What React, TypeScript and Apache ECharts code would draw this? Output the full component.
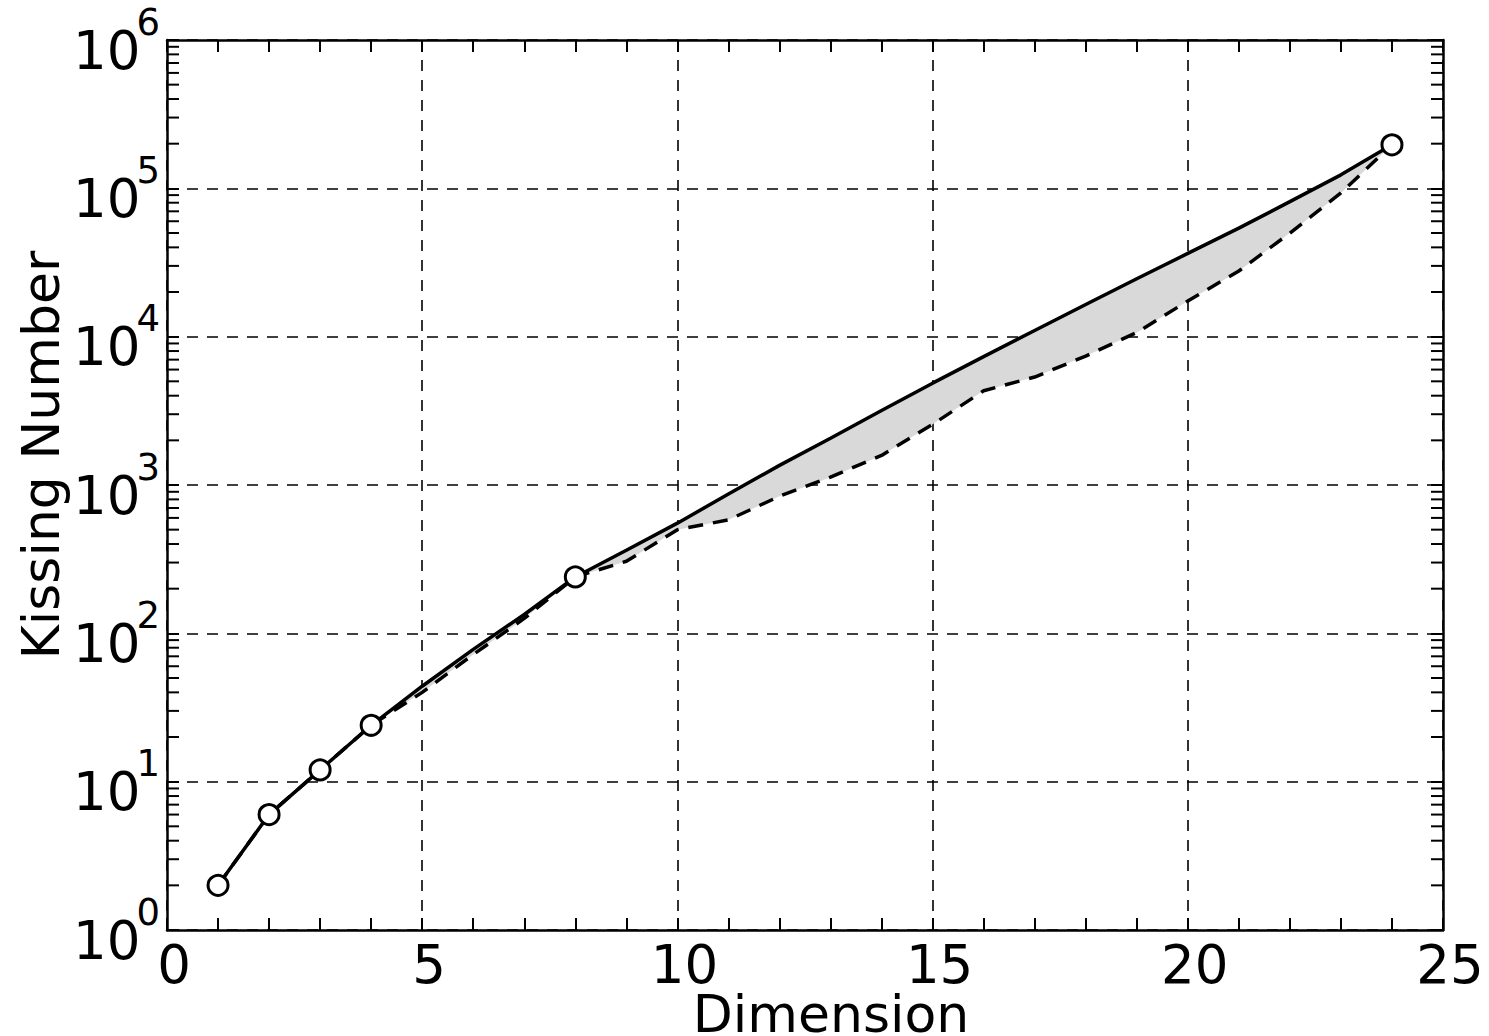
import React, { useEffect, useRef } from "react";
import * as echarts from "echarts";

const dimensions = [1, 2, 3, 4, 5, 6, 7, 8, 9, 10, 11, 12, 13, 14, 15, 16, 17, 18, 19, 20, 21, 22, 23, 24];
const upperBound = [2, 6, 12, 24, 44, 78, 134, 240, 363, 553, 869, 1356, 2066, 3177, 4858, 7332, 11014, 16469, 24575, 36402, 53878, 81376, 123328, 196560];
const lowerBound = [2, 6, 12, 24, 40, 72, 126, 240, 306, 500, 582, 840, 1130, 1582, 2564, 4320, 5346, 7398, 10668, 17400, 27720, 49896, 93150, 196560];
const knownDims = [1, 2, 3, 4, 8, 24];
const knownValues = [2, 6, 12, 24, 240, 196560];

const decades = [1, 10, 100, 1000, 10000, 100000];
const minorMultipliers = [2, 3, 4, 5, 6, 7, 8, 9];
const minorTickValues = decades.flatMap((d) => minorMultipliers.map((m) => m * d));

const FONT = "DejaVu Sans";

export default function App() {
  const ref = useRef<HTMLDivElement>(null);

  useEffect(() => {
    if (!ref.current) return;
    const chart = echarts.init(ref.current, undefined, { renderer: "svg" });

    const tickStyle = { color: "#000", width: 2 };
    const gridLine = { show: true, lineStyle: { color: "#000", width: 1.6, type: [11, 9] as any } };

    const option: any = {
      animation: false,
      backgroundColor: "#fff",
      grid: { left: 167, right: 46, top: 40, bottom: 106, containLabel: false, outerBoundsMode: "none" },
      xAxis: [
        {
          type: "value",
          min: 0,
          max: 25,
          interval: 5,
          position: "bottom",
          name: "Dimension",
          nameLocation: "middle",
          nameGap: 62,
          nameMoveOverlap: false,
          nameTextStyle: { fontFamily: FONT, fontSize: 52, lineHeight: 44, color: "#000", padding: [0, 0, 0, 52] },
          axisLine: { show: true, onZero: false, lineStyle: { color: "#000", width: 2.5 } },
          axisTick: { show: true, inside: true, length: 12, lineStyle: tickStyle },
          minorTick: { show: true, splitNumber: 5, length: 12, lineStyle: tickStyle },
          axisLabel: {
            fontFamily: FONT,
            fontSize: 53,
            lineHeight: 45,
            color: "#000",
            margin: 12,
            padding: [0, 0, 0, 14],
          },
          splitLine: gridLine,
        },
        {
          type: "value",
          min: 0,
          max: 25,
          interval: 5,
          position: "top",
          axisLine: { show: true, onZero: false, lineStyle: { color: "#000", width: 2.5 } },
          axisTick: { show: true, inside: true, length: 12, lineStyle: tickStyle },
          minorTick: { show: true, splitNumber: 5, length: 12, lineStyle: tickStyle },
          axisLabel: { show: false },
          splitLine: { show: false },
        },
      ],
      yAxis: [
        {
          type: "log",
          logBase: 10,
          min: 1,
          max: 1000000,
          splitNumber: 6,
          position: "left",
          name: "Kissing Number",
          nameLocation: "middle",
          nameGap: 100,
          nameRotate: 90,
          nameMoveOverlap: false,
          nameTextStyle: { fontFamily: FONT, fontSize: 52, color: "#000", padding: [0, 0, 0, 60] },
          axisLine: { show: true, onZero: false, lineStyle: { color: "#000", width: 2.5 } },
          axisTick: { show: true, inside: true, length: 12, lineStyle: tickStyle },
          axisLabel: {
            margin: 7,
            formatter: (v: number) => `{h| }{b|10}{s|${Math.round(Math.log10(v))}}`,
            rich: {
              h: { fontSize: 1, lineHeight: 73 },
              b: { fontFamily: FONT, fontSize: 53, color: "#000", lineHeight: 53, verticalAlign: "bottom" },
              s: { fontFamily: FONT, fontSize: 37, color: "#000", lineHeight: 37, verticalAlign: "top", padding: [0, 0, 0, -4] },
            },
          },
          splitLine: gridLine,
        },
        {
          type: "log",
          logBase: 10,
          min: 1,
          max: 1000000,
          splitNumber: 6,
          position: "right",
          axisLine: { show: true, onZero: false, lineStyle: { color: "#000", width: 2.5 } },
          axisTick: { show: true, inside: true, length: 12, lineStyle: tickStyle },
          axisLabel: { show: false },
          splitLine: { show: false },
        },
      ],
      series: [
        {
          type: "custom",
          name: "gap",
          silent: true,
          z: 1,
          data: [[dimensions[0], upperBound[0]]],
          encode: { x: 0, y: 1 },
          renderItem: (params: any, api: any) => {
            const top = dimensions.map((d, i) => api.coord([d, upperBound[i]]));
            const bottom = dimensions.map((d, i) => api.coord([d, lowerBound[i]])).reverse();
            return {
              type: "polygon",
              shape: { points: top.concat(bottom) },
              style: { fill: "#d9d9d9", stroke: "none" },
            };
          },
        },
        {
          type: "custom",
          name: "minorTicks",
          silent: true,
          z: 5,
          clip: false,
          data: minorTickValues.map((v) => [0, v]),
          encode: { x: 0, y: 1 },
          renderItem: (params: any, api: any) => {
            const v = api.value(1);
            const l = api.coord([0, v]);
            const r = api.coord([25, v]);
            return {
              type: "group",
              children: [
                { type: "line", shape: { x1: l[0], y1: l[1], x2: l[0] + 12, y2: l[1] }, style: { stroke: "#000", lineWidth: 2 } },
                { type: "line", shape: { x1: r[0] - 12, y1: r[1], x2: r[0], y2: r[1] }, style: { stroke: "#000", lineWidth: 2 } },
              ],
            };
          },
        },
        {
          type: "line",
          name: "Lower bound",
          z: 3,
          data: dimensions.map((d, i) => [d, lowerBound[i]]),
          showSymbol: false,
          symbol: "none",
          lineStyle: { color: "#000", width: 3.5, type: [15, 10] as any },
        },
        {
          type: "line",
          name: "Upper bound",
          z: 4,
          data: dimensions.map((d, i) => [d, upperBound[i]]),
          showSymbol: false,
          symbol: "none",
          lineStyle: { color: "#000", width: 3.5 },
        },
        {
          type: "scatter",
          name: "Known",
          z: 6,
          data: knownDims.map((d, i) => [d, knownValues[i]]),
          symbol: "circle",
          symbolSize: 20,
          itemStyle: { color: "#fff", borderColor: "#000", borderWidth: 3, opacity: 1 },
        },
      ],
    };

    chart.setOption(option);
    return () => chart.dispose();
  }, []);

  return (
    <div
      ref={ref}
      style={{ position: "fixed", left: 0, top: 0, width: 1489, height: 1036, background: "#fff" }}
    />
  );
}
